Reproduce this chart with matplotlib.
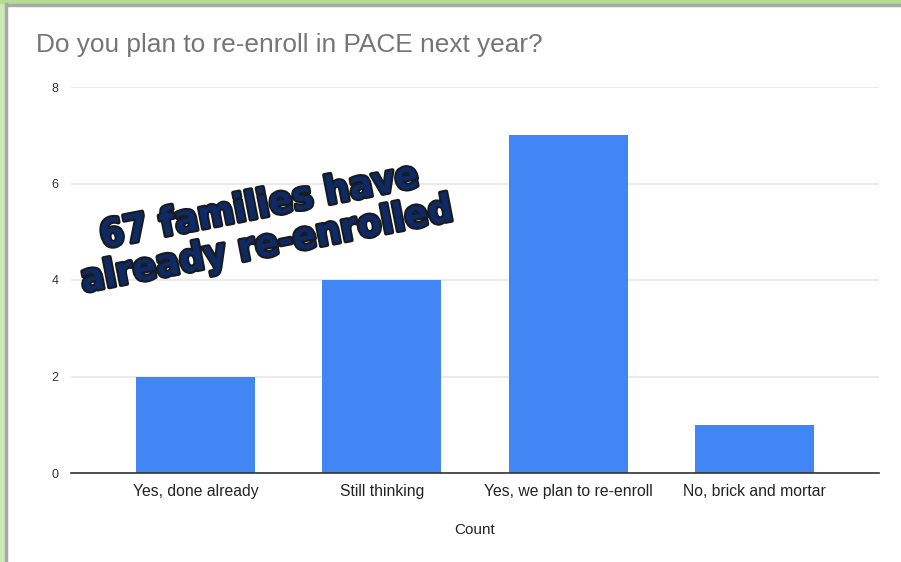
import matplotlib
matplotlib.use("Agg")
import matplotlib.pyplot as plt
import matplotlib.patheffects as pe
from matplotlib.patches import Rectangle

categories = ["Yes, done already", "Still thinking", "Yes, we plan to re-enroll", "No, brick and mortar"]
counts = [2, 4, 7, 1]
yticks = [0, 2, 4, 6, 8]

plt.rcParams["font.family"] = ["Liberation Sans", "DejaVu Sans"]

fig = plt.figure(figsize=(9.01, 5.62), dpi=100)
fig.patch.set_facecolor("white")

# spreadsheet frame: green strips and gray chart border
fig.patches.append(Rectangle((0, 0), 5/901, 1, transform=fig.transFigure, color="#cfe9b8", zorder=0))
fig.patches.append(Rectangle((0, 1-3/562), 1, 3/562, transform=fig.transFigure, color="#b5dc94", zorder=0))
fig.patches.append(Rectangle((5/901, 0), 2/901, 1-3/562, transform=fig.transFigure, color="#a8a8a8", zorder=1))
fig.patches.append(Rectangle((5/901, 1-5.5/562), 1, 2/562, transform=fig.transFigure, color="#a8a8a8", zorder=1))

ax = fig.add_axes([71/901, 1-473/562, (879-71)/901, (473-87)/562])
x = list(range(len(categories)))
ax.bar(x, counts, width=0.64, color="#4285F4", zorder=3)
ax.set_xlim(-0.67, len(categories) - 1 + 0.67)
ax.set_ylim(0, 8)
ax.set_yticks(yticks)
ax.set_yticklabels([str(t) for t in yticks], fontsize=9, color="#333333")
ax.set_xticks(x)
ax.set_xticklabels(categories, fontsize=11.3, color="#222222")
ax.tick_params(axis="both", length=0)
ax.tick_params(axis="y", pad=9)
ax.tick_params(axis="x", pad=8)
ax.grid(axis="y", color="#e6e6e6", linewidth=1.2, zorder=0)
for s in ["top", "right", "left"]:
    ax.spines[s].set_visible(False)
ax.spines["bottom"].set_color("#333333")
ax.spines["bottom"].set_linewidth(1.2)
ax.spines["bottom"].set_zorder(4)
ax.set_xlabel("Count", fontsize=11, color="#222222", labelpad=17)

fig.text(36/901, 1-45/562, "Do you plan to re-enroll in PACE next year?", fontsize=18.9,
         color="#757575", va="center", ha="left")

fig.text(263/901, 1-226/562, "67 families have\nalready re-enrolled", fontsize=28,
         family="DejaVu Sans", fontstretch="condensed",
         fontweight="bold", color="#0d2a66", ha="center", va="center", rotation=11,
         linespacing=1.05, rotation_mode="anchor",
         path_effects=[pe.withStroke(linewidth=3, foreground="#1a1a1a")])

fig.savefig("out.png", dpi=100)
